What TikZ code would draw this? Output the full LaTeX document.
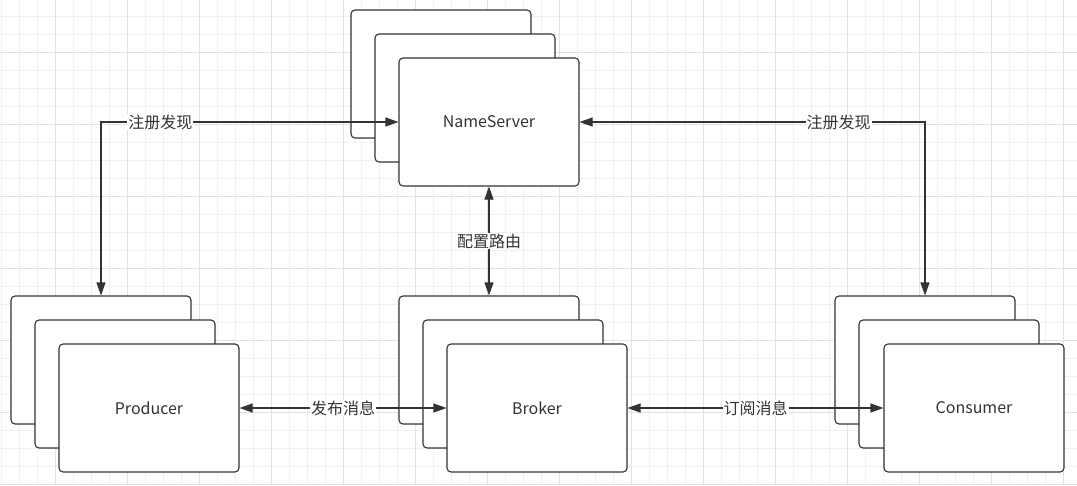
\documentclass[tikz,border=0pt]{standalone}
\usepackage{fontspec}
\setmainfont{Noto Sans CJK SC}
\usepackage{xcolor}
\usepackage{tikz}
\usetikzlibrary{arrows.meta}
\definecolor{ink}{HTML}{333333}
\definecolor{gridminor}{HTML}{F0F0F0}
\definecolor{gridmajor}{HTML}{E2E2E2}

\begin{document}
\begin{tikzpicture}[x=1pt, y=-1pt, font=\fontsize{16}{19}\selectfont,
  card/.style={draw=ink, line width=1.1pt, rounded corners=4pt, fill=white,
    minimum width=180pt, minimum height=128pt, inner sep=0pt, text=ink},
  link/.style={draw=ink, line width=1.1pt,
    {Triangle[length=13pt,width=9pt]}-{Triangle[length=13pt,width=9pt]}},
  tag/.style={fill=white, inner sep=1pt, text=ink}]
\useasboundingbox (0,0) rectangle (1077,485);
\fill[white] (0,0) rectangle (1077,485);
% grid
\foreach \i in {0,...,59} \draw[gridminor, line width=1pt] ({1.3+18*\i},0) -- ++(0,485);
\foreach \j in {0,...,26} \draw[gridminor, line width=1pt] (0,{16+18*\j}) -- ++(1077,0);
\foreach \i in {0,...,14} \draw[gridmajor, line width=1pt] ({55.3+72*\i},0) -- ++(0,485);
\foreach \j in {0,...,6} \draw[gridmajor, line width=1pt] (0,{52+72*\j}) -- ++(1077,0);

% NameServer
\node[card] (ns1) at (441,74) {};
\node[card] (ns2) at (465,98) {};
\node[card] (ns) at (489,122) {NameServer};
% Producer
\node[card] (prod1) at (101,360) {};
\node[card] (prod2) at (125,384) {};
\node[card] (prod) at (149,408) {Producer};
% Broker
\node[card] (broker1) at (489,360) {};
\node[card] (broker2) at (513,384) {};
\node[card] (broker) at (537,408) {Broker};
% Consumer
\node[card] (cons1) at (925,360) {};
\node[card] (cons2) at (949,384) {};
\node[card] (cons) at (974,408) {Consumer};

\draw[link] (prod1.north) |- node[tag, pos=0.6] {注册发现} (ns.west);
\draw[link] (ns.east) -| node[tag, pos=0.375] {注册发现} (cons1.north);
\draw[link] (ns.south) -- node[tag] {配置路由} (broker1.north);
\draw[link] (prod.east) -- node[tag] {发布消息} (broker.west);
\draw[link] (broker.east) -- node[tag] {订阅消息} (cons.west);
\end{tikzpicture}
\end{document}
